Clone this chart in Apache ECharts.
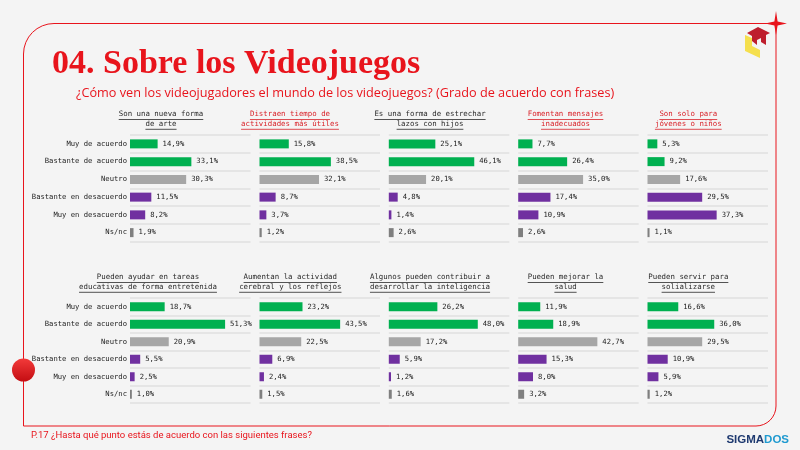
<!DOCTYPE html>
<html>
<head>
<meta charset="utf-8">
<script src="https://cdn.jsdelivr.net/npm/echarts@6/dist/echarts.min.js"></script>
<style>
html,body{margin:0;padding:0;background:#f4f4f4;}
#chart{width:800px;height:450px;}
</style>
</head>
<body>
<div id="chart"></div>
<script>
// ---------- DATA ----------
const categories = ['Muy de acuerdo','Bastante de acuerdo','Neutro','Bastante en desacuerdo','Muy en desacuerdo','Ns/nc'];

const nuevaFormaArte      = [14.9, 33.1, 30.3, 11.5, 8.2, 1.9];
const distraenTiempo      = [15.8, 38.5, 32.1, 8.7, 3.7, 1.2];
const estrecharLazos      = [25.1, 46.1, 20.1, 4.8, 1.4, 2.6];
const mensajesInadecuados = [7.7, 26.4, 35.0, 17.4, 10.9, 2.6];
const soloJovenes         = [5.3, 9.2, 17.6, 29.5, 37.3, 1.1];
const tareasEducativas    = [18.7, 51.3, 20.9, 5.5, 2.5, 1.0];
const actividadCerebral   = [23.2, 43.5, 22.5, 6.9, 2.4, 1.5];
const inteligencia        = [26.2, 48.0, 17.2, 5.9, 1.2, 1.6];
const mejorarSalud        = [11.9, 18.9, 42.7, 15.3, 8.0, 3.2];
const socializarse        = [16.6, 36.0, 29.5, 10.9, 5.9, 1.2];

const panelTitles = [
  ['Son una nueva forma', 'de arte'],
  ['Distraen tiempo de', 'actividades más útiles'],
  ['Es una forma de estrechar', 'lazos con hijos'],
  ['Fomentan mensajes', 'inadecuados'],
  ['Son solo para', 'jóvenes o niños'],
  ['Pueden ayudar en tareas', 'educativas de forma entretenida'],
  ['Aumentan la actividad', 'cerebral y los reflejos'],
  ['Algunos pueden contribuir a', 'desarrollar la inteligencia'],
  ['Pueden mejorar la', 'salud'],
  ['Pueden servir para', 'solializarse']
];
const negativeTitle = [false, true, false, true, true, false, false, false, false, false];

const panelData = [nuevaFormaArte, distraenTiempo, estrecharLazos, mensajesInadecuados, soloJovenes,
                   tareasEducativas, actividadCerebral, inteligencia, mejorarSalud, socializarse];

// ---------- STYLE ----------
const catColors = ['#00B050','#00B050','#A6A6A6','#7030A0','#7030A0','#7F7F7F'];
const RED = '#e8141c';
const MONO = '"DejaVu Sans Mono", monospace';
const gridLefts = [130, 259.5, 388.8, 518.2, 647.5];
const gridWidth = 120.5;
const rowTop = [135, 298];
const rowHeight = [106.5, 105];
const titleCenters = [[161, 290, 430, 565.5, 688.3], [148, 290.3, 430, 565.5, 688.3]];
const titleY = [[114.5, 124.3], [277.5, 287.3]];
const titleFont = 7.4;

const chart = echarts.init(document.getElementById('chart'), null, {renderer:'canvas'});

const grids = [], xAxes = [], yAxes = [], series = [], graphics = [];
const mctx = document.createElement('canvas').getContext('2d');
mctx.font = titleFont + 'px ' + MONO;

panelData.forEach((vals, i) => {
  const row = Math.floor(i / 5), col = i % 5;
  grids.push({left: gridLefts[col], top: rowTop[row], width: gridWidth, height: rowHeight[row], containLabel: false});
  xAxes.push({type:'value', gridIndex:i, min:0, max:65, show:false, splitLine:{show:false}});
  yAxes.push({
    type:'category', gridIndex:i, data:categories, inverse:true,
    axisLine:{show:false}, axisTick:{show:false},
    splitLine:{show:true, lineStyle:{color:'#e0e0e0', width:1.5}},
    axisLabel:{show: col === 0, fontFamily: MONO, fontSize:7.2, color:'#222', margin:3}
  });
  series.push({
    type:'bar', xAxisIndex:i, yAxisIndex:i, barWidth:9,
    data: vals.map((v, k) => ({value:v, itemStyle:{color:catColors[k]}})),
    label:{show:true, position:'right', distance:5, fontFamily:MONO, fontSize:7.2, color:'#222',
      formatter: p => p.value.toFixed(1).replace('.', ',') + '%'},
    silent:true, animation:false
  });
  const color = negativeTitle[i] ? '#d9232a' : '#2a2a2a';
  panelTitles[i].forEach((t, li) => {
    const cx = titleCenters[row][col], y = titleY[row][li];
    const w = mctx.measureText(t).width;
    graphics.push({type:'text', x: cx, y: y,
      style:{text:t, fill:color, font: titleFont + 'px ' + MONO, textAlign:'center', textVerticalAlign:'middle'}});
    graphics.push({type:'line', shape:{x1:cx - w/2, y1:y + 5, x2:cx + w/2, y2:y + 5},
      style:{stroke:color, lineWidth:0.8}});
  });
});

// frame + decorations
const frameStyle = {stroke:RED, lineWidth:1, fill:null};
graphics.push({type:'line', shape:{x1:54, y1:23.5, x2:776, y2:23.5}, style:frameStyle});
graphics.push({type:'line', shape:{x1:23.5, y1:54, x2:23.5, y2:426}, style:frameStyle});
graphics.push({type:'line', shape:{x1:23.5, y1:426, x2:756, y2:426}, style:frameStyle});
graphics.push({type:'line', shape:{x1:776, y1:23.5, x2:776, y2:406}, style:frameStyle});
graphics.push({type:'arc', shape:{cx:54, cy:54, r:30.5, startAngle:Math.PI, endAngle:1.5*Math.PI}, style:frameStyle});
graphics.push({type:'arc', shape:{cx:756, cy:406, r:20, startAngle:0, endAngle:0.5*Math.PI}, style:frameStyle});
graphics.push({type:'polygon', shape:{points:[[776,11],[777.6,21.4],[787,23.5],[777.6,25.6],[776,35],[774.4,25.6],[765,23.5],[774.4,21.4]]},
  style:{fill:RED}});
graphics.push({type:'circle', shape:{cx:23.5, cy:370, r:11.5},
  style:{fill:new echarts.graphic.LinearGradient(0,0,0,1,[{offset:0,color:'#f23a3a'},{offset:1,color:'#c40d12'}])}});
// logo
graphics.push({type:'polygon', shape:{points:[[745,35],[752,38],[752,46],[760,50],[760,58],[745,51]]}, style:{fill:'#f5df4d'}});
graphics.push({type:'polygon', shape:{points:[[747,33],[758,27],[770,33],[766,35],[766,45],[761,42],[761,38],[757,40],[757,45],[752,41],[752,36]]}, style:{fill:'#be1e2d'}});

// titles
graphics.push({type:'text', x:52, y:64, style:{text:'04. Sobre los Videojuegos', fill:RED,
  font:'bold 34px "Liberation Serif", serif', textVerticalAlign:'middle'}});
graphics.push({type:'text', x:76, y:93, style:{text:'¿Cómo ven los videojugadores el mundo de los videojuegos? (Grado de acuerdo con frases)',
  fill:RED, font:'12.7px "Open Sans", sans-serif', textVerticalAlign:'middle'}});
graphics.push({type:'text', x:31, y:436, style:{text:'P.17 ¿Hasta qué punto estás de acuerdo con las siguientes frases?',
  fill:RED, font:'9.5px Roboto, sans-serif', textVerticalAlign:'middle'}});
graphics.push({type:'text', x:789, y:440, style:{text:'{a|SIGMA}{b|DOS}', textAlign:'right', textVerticalAlign:'middle',
  rich:{a:{fill:'#1f3a70', fontFamily:'"Liberation Sans", sans-serif', fontWeight:'bold', fontSize:11.5},
        b:{fill:'#1f9ad0', fontFamily:'"Liberation Sans", sans-serif', fontWeight:'bold', fontSize:11.5}}}});

chart.setOption({
  backgroundColor:'#f4f4f4',
  animation:false,
  grid: grids, xAxis: xAxes, yAxis: yAxes, series: series,
  graphic: graphics
});
</script>
</body>
</html>
